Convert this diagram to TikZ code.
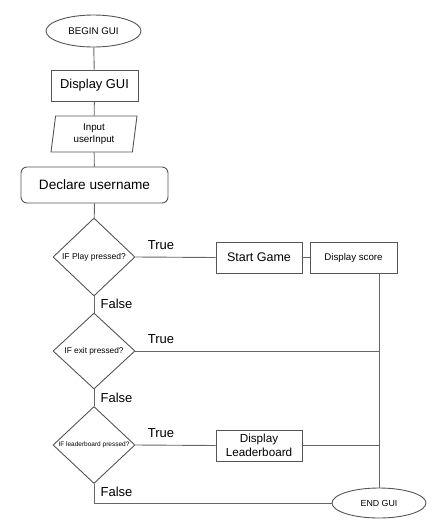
\documentclass[tikz,border=0pt]{standalone}
\usepackage{fontspec}
\setmainfont{Liberation Sans}
\usetikzlibrary{shapes.geometric}
\definecolor{ln}{HTML}{666666}
\definecolor{bd}{HTML}{555555}
\tikzset{
  shp/.style={draw=bd, line width=0.9pt, inner sep=0pt, align=center, text=black},
  term/.style={shp, ellipse},
  proc/.style={shp, rectangle},
  dec/.style={shp, diamond, minimum width=82pt, minimum height=78pt},
  io/.style={shp, trapezium, trapezium left angle=77.5, trapezium right angle=102.5, trapezium stretches body},
  conn/.style={draw=ln, line width=0.9pt},
  lbl/.style={font=\fontsize{13}{15}\selectfont, inner sep=0pt}
}
\begin{document}
\begin{tikzpicture}[x=1pt,y=-1pt]
\useasboundingbox (0,0) rectangle (437,531);
\node[term, minimum width=95pt, minimum height=32pt, font=\fontsize{9.7}{11}\selectfont] (begin) at (93.5,31) {BEGIN GUI};
\node[proc, minimum width=87pt, minimum height=31pt, font=\fontsize{12.9}{15}\selectfont] (disp) at (94.5,85.5) {Display GUI};
\node[io, minimum width=86pt, minimum height=36pt, font=\fontsize{9.8}{12}\selectfont] (inp) at (94,134) {Input\\userInput};
\node[proc, rounded corners=6pt, minimum width=147pt, minimum height=36pt, font=\fontsize{13.6}{16}\selectfont] (decl) at (94.5,185) {Declare username};
\node[dec, font=\fontsize{8.5}{10}\selectfont] (d1) at (94,257) {IF Play pressed?};
\node[dec, minimum height=76pt, font=\fontsize{8.3}{10}\selectfont] (d2) at (94,351) {IF exit pressed?};
\node[dec, minimum height=77pt, font=\fontsize{6.5}{8}\selectfont] (d3) at (94,445) {IF leaderboard pressed?};
\node[proc, minimum width=86pt, minimum height=31pt, font=\fontsize{12.5}{15}\selectfont] (start) at (259,257.5) {Start Game};
\node[proc, minimum width=87pt, minimum height=31pt, font=\fontsize{9.7}{12}\selectfont] (score) at (353.5,257.5) {Display score};
\node[proc, minimum width=86pt, minimum height=31pt, font=\fontsize{11.7}{14}\selectfont] (lb) at (259,445.5) {Display\\Leaderboard};
\node[term, minimum width=94pt, minimum height=30pt, font=\fontsize{8.8}{11}\selectfont] (endg) at (379,503) {END GUI};
% connectors
\draw[conn] (begin) -- (disp);
\draw[conn] (disp) -- (inp);
\draw[conn] (inp) -- (decl);
\draw[conn] (decl) -- (d1);
\draw[conn] (d1.east) -- (start.west);
\draw[conn] (start) -- (score);
\draw[conn] (score.south -| endg.north) -- (endg.north);
\draw[conn] (d1) -- (d2);
\draw[conn] (d2.east) -- (d2.east -| endg.north);
\draw[conn] (d2) -- (d3);
\draw[conn] (d3.east) -- (lb.west);
\draw[conn] (lb.east) -- (lb.east -| endg.north);
\draw[conn] (d3.south) |- (endg.west);
% labels
\node[lbl] (t1) at (161,245) {True};
\node[lbl] (f1) at (116.5,304) {False};
\node[lbl] (t2) at (161,339) {True};
\node[lbl] (f2) at (116.5,398) {False};
\node[lbl] (t3) at (161,433) {True};
\node[lbl] (f3) at (116.5,492) {False};
\end{tikzpicture}
\end{document}
